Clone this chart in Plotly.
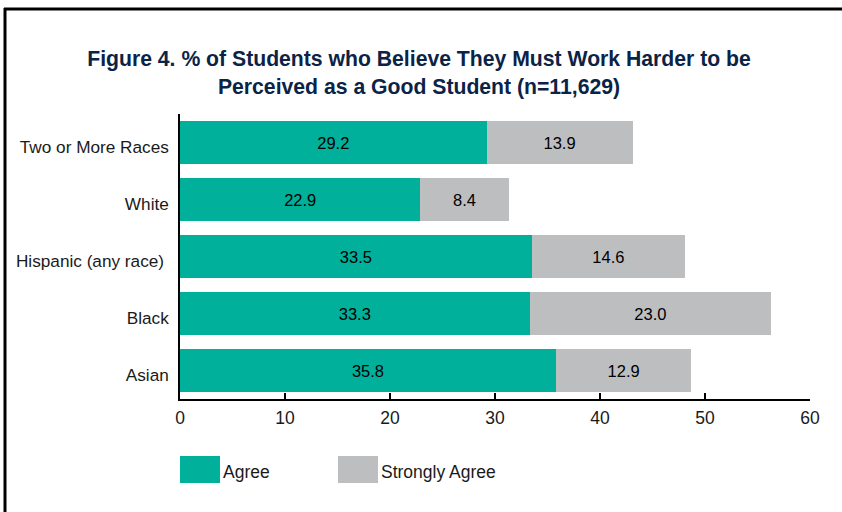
import plotly.graph_objects as go

categories = ["Two or More Races", "White", "Hispanic (any race) ", "Black", "Asian"]
agree = [29.2, 22.9, 33.5, 33.3, 35.8]
strongly_agree = [13.9, 8.4, 14.6, 23.0, 12.9]
series_names = ["Agree", "Strongly Agree"]
series_colors = ["#00B09B", "#BDBEC0"]
x_ticks = [0, 10, 20, 30, 40, 50, 60]
title_text = ("Figure 4. % of Students who Believe They Must Work Harder to be<br>"
              "Perceived as a Good Student (n=11,629)")

W, H = 842, 512
L, R, T, B = 180, 32, 114, 113
PW, PH = W - L - R, H - T - B


def px_x(px):
    return (px - L) / PW


def px_y(py):
    return (H - B - py) / PH


FONT = "Liberation Sans, Arial, sans-serif"

fig = go.Figure()
for name, vals, col in zip(series_names, [agree, strongly_agree], series_colors):
    fig.add_trace(go.Bar(
        y=categories, x=vals, name=name, orientation="h",
        marker=dict(color=col, line=dict(width=0)),
        texttemplate="%{x:.1f}", textposition="inside",
        insidetextanchor="middle", constraintext="none",
        textfont=dict(color="black", size=16.5, family=FONT),
        showlegend=False,
    ))

shapes = [
    # figure frame (top and left)
    dict(type="line", xref="paper", yref="paper",
         x0=px_x(4), x1=px_x(846), y0=px_y(9), y1=px_y(9),
         line=dict(color="black", width=3)),
    dict(type="line", xref="paper", yref="paper",
         x0=px_x(5), x1=px_x(5), y0=px_y(8), y1=px_y(520),
         line=dict(color="black", width=3)),
]
annotations = []
legend_x = [180, 338]
for i, (name, col) in enumerate(zip(series_names, series_colors)):
    x0 = legend_x[i]
    shapes.append(dict(type="rect", xref="paper", yref="paper",
                       x0=px_x(x0), x1=px_x(x0 + 40), y0=px_y(483), y1=px_y(456),
                       fillcolor=col, line=dict(width=0)))
    annotations.append(dict(xref="paper", yref="paper", x=px_x(x0 + 41), y=px_y(472),
                            text=name, showarrow=False, xanchor="left", yanchor="middle",
                            font=dict(size=17.5, color="#1a1a1a", family=FONT)))

fig.update_layout(
    width=W, height=H,
    margin=dict(l=L, r=R, t=T, b=B, pad=0, autoexpand=False),
    paper_bgcolor="white", plot_bgcolor="white",
    barmode="stack", bargap=0.246,
    title=dict(text="<b>" + title_text + "</b>", x=419 / W, xanchor="center",
               xref="container", yref="container",
               y=1 - 66 / H, yanchor="middle",
               font=dict(size=21.2, color="#0B2346", family=FONT)),
    font=dict(family=FONT, size=16, color="#1a1a1a"),
    shapes=shapes, annotations=annotations,
    showlegend=False,
)
fig.update_xaxes(range=[0, 60], tickvals=x_ticks, ticks="inside", ticklen=6,
                 tickcolor="black", tickwidth=1.5, showline=True, linecolor="black",
                 linewidth=1.5, showgrid=False, zeroline=False, automargin=False,
                 ticklabelstandoff=2,
                 tickfont=dict(size=17.5, color="#1a1a1a"))
fig.update_yaxes(autorange="reversed", showline=True, linecolor="black", linewidth=1.5,
                 ticks="", ticklabelstandoff=6, ticklabelshift=-4, showgrid=False,
                 automargin=False,
                 tickfont=dict(size=17.2, color="#1a1a1a"))

fig.write_html("out.html")
